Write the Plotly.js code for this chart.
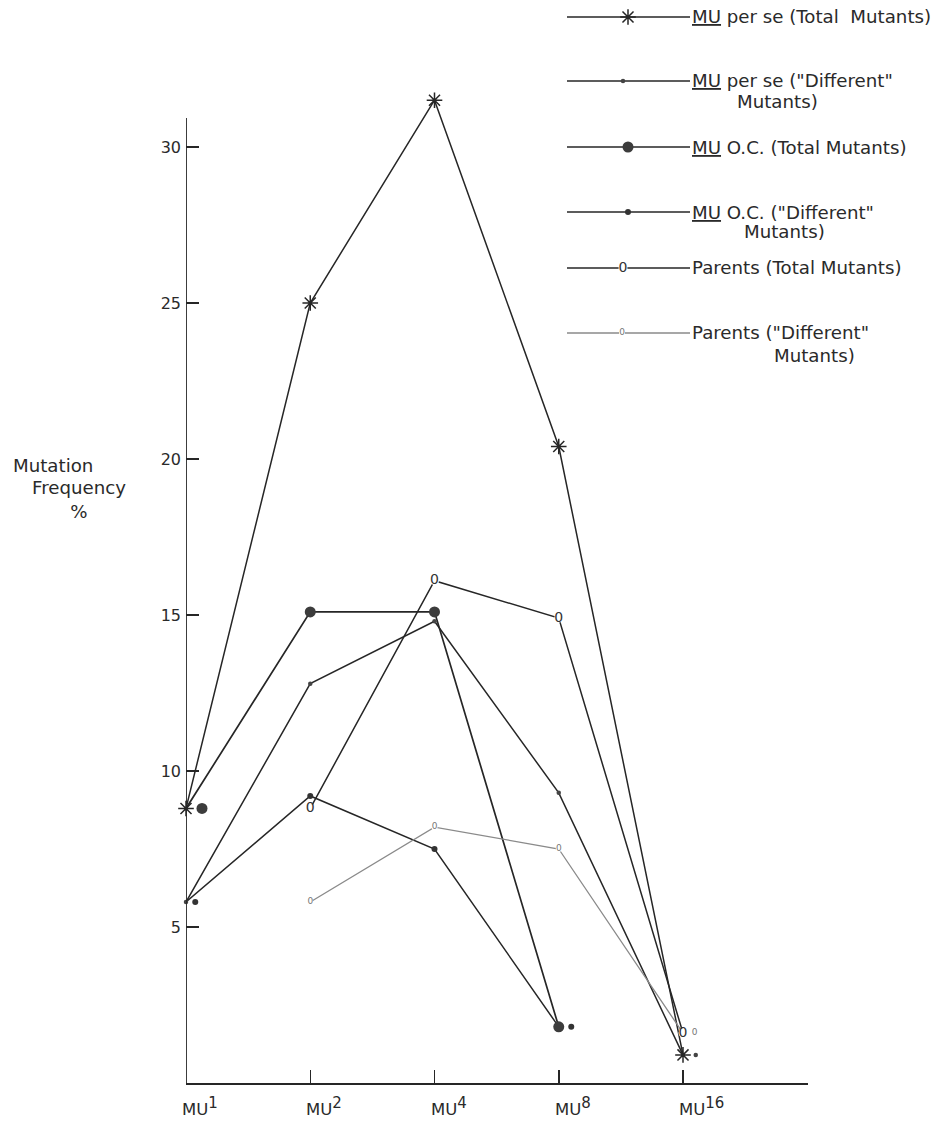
<!DOCTYPE html>
<html>
<head>
<meta charset="utf-8">
<script src="https://cdn.plot.ly/plotly-3.0.1.min.js"></script>
<style>
  html, body { margin: 0; padding: 0; background: #fff; }
  #chart { width: 938px; height: 1123px; }
</style>
</head>
<body>
<div id="chart"></div>
<script>
// Generations of MU treatment (shown as MU with a superscript)
const generations = ['1', '2', '4', '8', '16'];

// Mutation frequency (%) per generation; null = not measured
const muPerSeTotal     = [8.8, 25.0, 31.5, 20.4, 0.9];
const muPerSeDifferent = [5.8, 12.8, 14.8, 9.3, 0.9];
const muOcTotal        = [8.8, 15.1, 15.1, 1.8, null];
const muOcDifferent    = [5.8, 9.2, 7.5, 1.8, null];
const parentsTotal     = [null, 8.8, 16.1, 14.9, 1.6];
const parentsDifferent = [null, 5.8, 8.2, 7.5, 1.6];

const yTicks = [5, 10, 15, 20, 25, 30];
const yAxisTop = 30.93;

// Series labels (legend text, with the second line where it wraps)
const labelPerSeTotal = ['<u>MU</u> per se (Total&nbsp; Mutants)'];
const labelPerSeDiff  = ['<u>MU</u> per se ("Different"', 'Mutants)'];
const labelOcTotal    = ['<u>MU</u> O.C. (Total Mutants)'];
const labelOcDiff     = ['<u>MU</u> O.C. ("Different"', 'Mutants)'];
const labelParTotal   = ['Parents (Total Mutants)'];
const labelParDiff    = ['Parents ("Different"', 'Mutants)'];

// ---- page geometry ----
const W = 938, H = 1123;
const M = { l: 186, r: 130, t: 0, b: 40 };
const PW = W - M.l - M.r;          // plot width in px
const PH = H - M.t - M.b;          // plot height in px
const X_MAX = 5.006;
const Y_MAX = PH / 31.2;
const pxPerX = PW / X_MAX;
const fx = px => (px - M.l) / PW;               // px -> paper x
const fy = py => (H - M.b - py) / PH;           // px -> paper y

const INK = '#262626';
const TEXT = '#2a2a2a';
const FONT = 'DejaVu Sans';
const TXT_SIZE = 18.2;

const series = [
  { values: muPerSeTotal, label: labelPerSeTotal, kind: 'marker', symbol: 'asterisk-open', size: 13,
    color: INK, lineColor: INK, lw: 1.5, legendY: 17, legendMX: 628, subX: null, subY: null },
  { values: muPerSeDifferent, label: labelPerSeDiff, kind: 'marker', symbol: 'circle', size: 4.5,
    color: '#444', lineColor: INK, lw: 1.5, legendY: 81, legendMX: 623, subX: 737, subY: 102 },
  { values: muOcTotal, label: labelOcTotal, kind: 'marker', symbol: 'circle', size: 11,
    color: '#3c3c3c', lineColor: INK, lw: 1.7, legendY: 147, legendMX: 628, subX: null, subY: null },
  { values: muOcDifferent, label: labelOcDiff, kind: 'marker', symbol: 'circle', size: 6,
    color: '#333', lineColor: INK, lw: 1.5, legendY: 212, legendMX: 628, subX: 744, subY: 232 },
  { values: parentsTotal, label: labelParTotal, kind: 'text', glyph: '0', size: 9, fontSize: 14,
    color: '#333', lineColor: INK, lw: 1.5, legendY: 268, legendMX: 623, subX: null, subY: null },
  { values: parentsDifferent, label: labelParDiff, kind: 'text', glyph: '0', size: 6, fontSize: 9,
    color: '#777', lineColor: '#8a8a8a', lw: 1.3, legendY: 333, legendMX: 622, subX: 774, subY: 355 }
];

// Markers that share the same value in one generation are set side by side
const dodge = series.map(s => s.values.map(() => 0));
generations.forEach((g, i) => {
  const seen = {};
  series.forEach((s, k) => {
    const v = s.values[i];
    if (v === null) return;
    (seen[v] = seen[v] || []).push(k);
  });
  Object.values(seen).forEach(group => {
    let off = 0;
    group.forEach((k, j) => {
      if (j > 0) {
        const prev = series[group[j - 1]];
        off += (prev.size + series[k].size) / 2 + 4;
      }
      dodge[k][i] = off / pxPerX;
    });
  });
});

const xs = generations.map((g, i) => i);
const traces = [];

// connecting lines
series.forEach(s => {
  traces.push({
    type: 'scatter', mode: 'lines', x: xs, y: s.values,
    connectgaps: false, cliponaxis: false, hoverinfo: 'skip',
    line: { color: s.lineColor, width: s.lw }
  });
});

// point markers (only where a value exists)
series.forEach((s, k) => {
  const idx = xs.filter(i => s.values[i] !== null);
  const mx = idx.map(i => xs[i] + dodge[k][i]);
  const my = idx.map(i => s.values[i]);
  if (s.kind === 'marker') {
    traces.push({
      type: 'scatter', mode: 'markers', x: mx, y: my, cliponaxis: false, hoverinfo: 'skip',
      marker: { symbol: s.symbol, size: s.size, color: s.color,
                line: { color: s.color, width: s.symbol.indexOf('open') >= 0 ? 1.5 : 0 } }
    });
  } else {
    traces.push({
      type: 'scatter', mode: 'markers+text', x: mx, y: my, cliponaxis: false, hoverinfo: 'skip',
      text: my.map(() => s.glyph), textposition: 'middle center',
      textfont: { family: FONT, size: s.fontSize, color: s.color },
      marker: { symbol: 'circle', size: s.size, color: '#ffffff', line: { width: 0 } }
    });
  }
});

// legend sample glyphs, placed on a pixel-scaled overlay axis
series.forEach(s => {
  const base = {
    type: 'scatter', xaxis: 'x2', yaxis: 'y2', x: [s.legendMX], y: [s.legendY],
    cliponaxis: false, hoverinfo: 'skip'
  };
  if (s.kind === 'marker') {
    traces.push(Object.assign(base, {
      mode: 'markers',
      marker: { symbol: s.symbol, size: s.size, color: s.color,
                line: { color: s.color, width: s.symbol.indexOf('open') >= 0 ? 1.5 : 0 } }
    }));
  } else {
    traces.push(Object.assign(base, {
      mode: 'markers+text', text: [s.glyph], textposition: 'middle center',
      textfont: { family: FONT, size: s.fontSize, color: s.color },
      marker: { symbol: 'circle', size: s.size, color: '#ffffff', line: { width: 0 } }
    }));
  }
});

const shapes = [];
const annotations = [];

// y axis line (stops just above the 30 tick)
shapes.push({ type: 'line', xref: 'x', yref: 'y', x0: 0, x1: 0, y0: 0, y1: yAxisTop,
              line: { color: INK, width: 1.8 } });

// legend line samples and labels
series.forEach(s => {
  shapes.push({ type: 'line', xref: 'paper', yref: 'paper', layer: 'below',
                x0: fx(567), x1: fx(690), y0: fy(s.legendY), y1: fy(s.legendY),
                line: { color: s.lineColor, width: s.lw } });
  annotations.push({ xref: 'paper', yref: 'paper', x: fx(690), y: fy(s.legendY),
                     xanchor: 'left', yanchor: 'middle', showarrow: false, text: s.label[0],
                     font: { family: FONT, size: TXT_SIZE, color: TEXT } });
  if (s.label[1]) {
    annotations.push({ xref: 'paper', yref: 'paper', x: fx(s.subX - 2), y: fy(s.subY),
                       xanchor: 'left', yanchor: 'middle', showarrow: false, text: s.label[1],
                       font: { family: FONT, size: TXT_SIZE, color: TEXT } });
  }
});

// generation labels under the x axis
generations.forEach((g, i) => {
  annotations.push({ xref: 'x', yref: 'paper', x: i, y: fy(1106), xshift: -6,
                     xanchor: 'left', yanchor: 'middle', showarrow: false,
                     text: 'MU<sup><span style="font-size:15px">' + g + '</span></sup>',
                     font: { family: FONT, size: 16.5, color: TEXT } });
});

// y axis title: "Mutation" set to the left, "Frequency / %" centred below it
annotations.push({ xref: 'paper', yref: 'paper', x: fx(53), y: fy(465),
                   xanchor: 'center', yanchor: 'middle', showarrow: false, text: 'Mutation',
                   font: { family: FONT, size: TXT_SIZE, color: TEXT } });
annotations.push({ xref: 'paper', yref: 'paper', x: fx(79), y: fy(499),
                   xanchor: 'center', yanchor: 'middle', showarrow: false, align: 'center',
                   text: 'Frequency<br>%',
                   font: { family: FONT, size: TXT_SIZE, color: TEXT } });

const layout = {
  width: W, height: H,
  margin: M,
  paper_bgcolor: '#ffffff', plot_bgcolor: '#ffffff',
  showlegend: false, hovermode: false,
  font: { family: FONT, color: TEXT },
  xaxis: {
    range: [0, X_MAX], showgrid: false, zeroline: false,
    showline: true, linecolor: INK, linewidth: 1.8,
    tickmode: 'array', tickvals: [1, 2, 3, 4], ticks: 'inside', ticklen: 13,
    tickwidth: 1.5, tickcolor: INK, showticklabels: false, fixedrange: true
  },
  yaxis: {
    range: [0, Y_MAX], showgrid: false, zeroline: false, showline: false,
    tickmode: 'array', tickvals: yTicks, ticktext: yTicks.map(String),
    ticks: 'inside', ticklen: 13, tickwidth: 1.5, tickcolor: INK,
    ticklabelstandoff: 4,
    tickfont: { family: FONT, size: 16, color: TEXT }, fixedrange: true
  },
  xaxis2: { overlaying: 'x', anchor: 'y2', range: [M.l, M.l + PW], visible: false, fixedrange: true },
  yaxis2: { overlaying: 'y', anchor: 'x2', range: [H - M.b, M.t], visible: false, fixedrange: true },
  shapes: shapes,
  annotations: annotations
};

Plotly.newPlot('chart', traces, layout, { staticPlot: true, displayModeBar: false });
</script>
</body>
</html>
